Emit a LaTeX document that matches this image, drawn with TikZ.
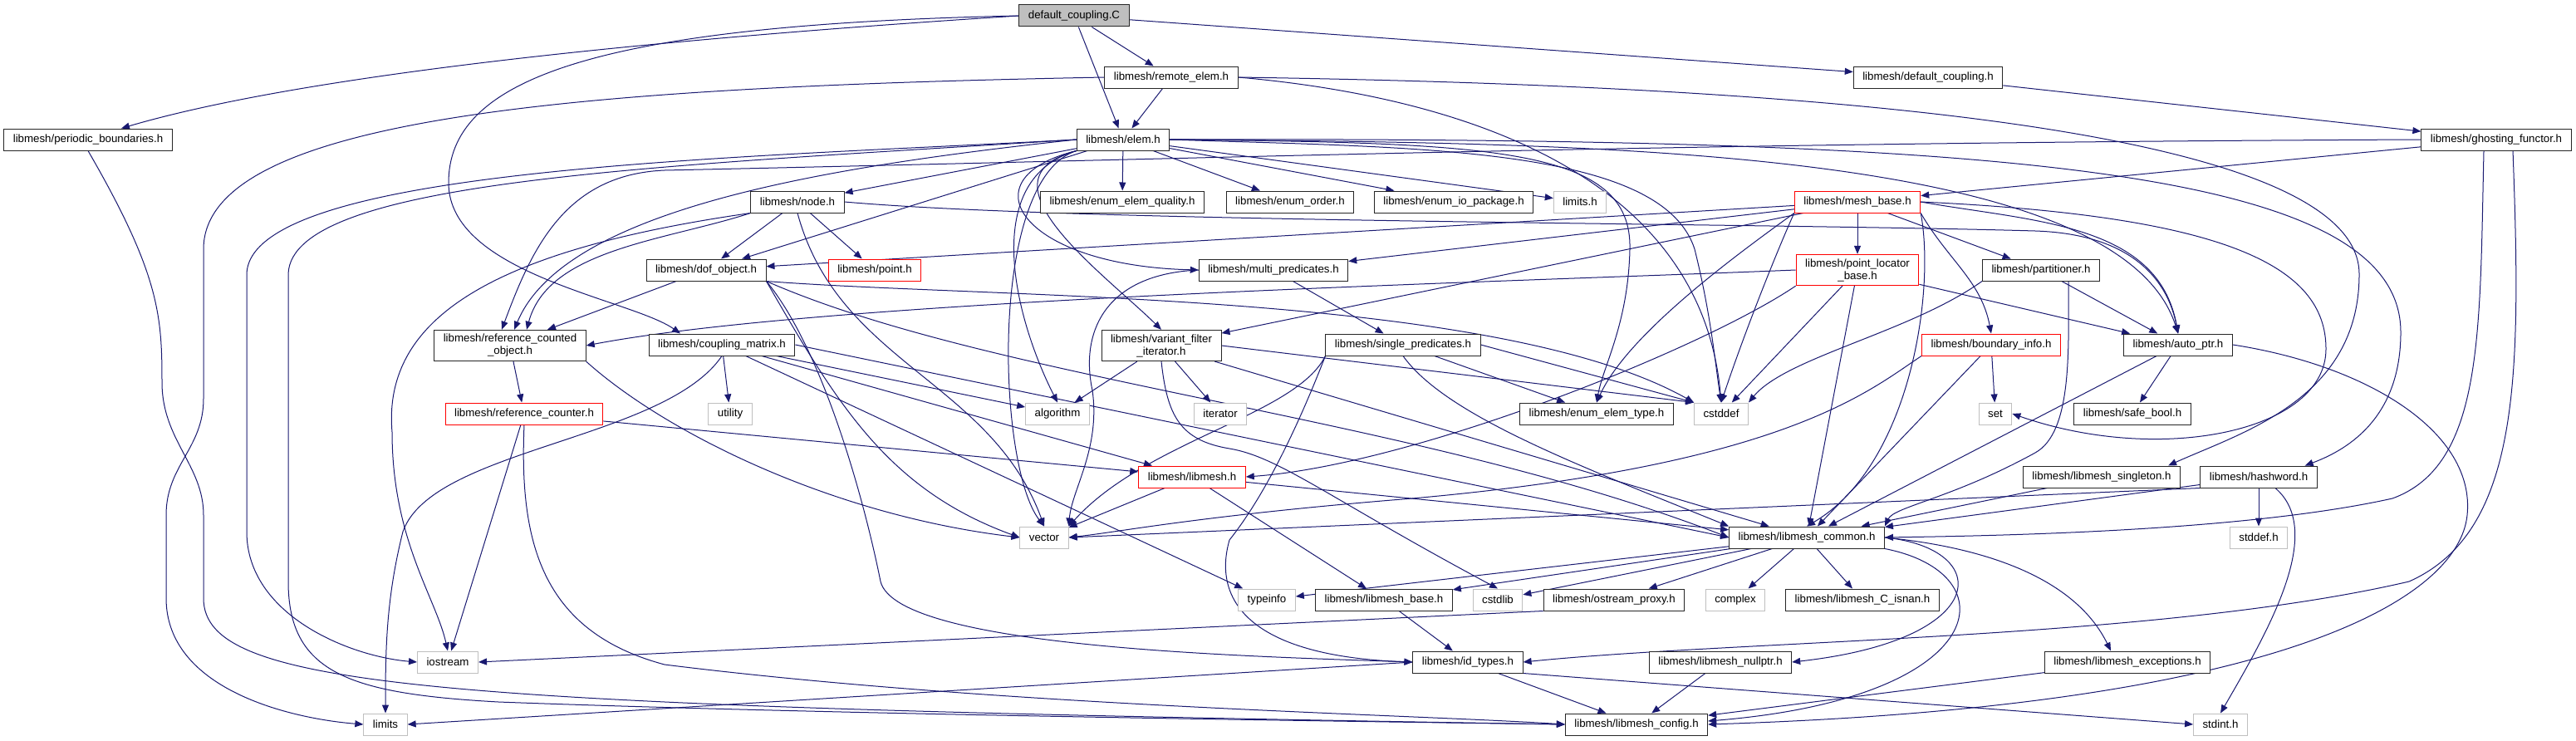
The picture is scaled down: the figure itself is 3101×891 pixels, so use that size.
\documentclass[tikz,border=0pt]{standalone}
\usepackage{fontspec}
\setmainfont{Liberation Sans}
\usepackage{xcolor}
\usepackage{tikz}
\usetikzlibrary{arrows.meta}
\definecolor{edgeblue}{HTML}{191970}
\definecolor{sysgray}{HTML}{BFBFBF}
\definecolor{cutred}{HTML}{FF0000}
\pgfdeclarelayer{edges}
\pgfsetlayers{edges,main}

\begin{document}
\begin{tikzpicture}[
  x=1pt,y=1pt,
  box/.style={draw=black!85,line width=1pt,fill=white,align=center,minimum height=26pt,inner xsep=11pt,inner ysep=5pt,font=\fontsize{13.3}{15}\selectfont},
  sysbox/.style={box,draw=sysgray},
  cutbox/.style={box,draw=cutred},
  rootbox/.style={box,fill=sysgray},
  line/.style={-{Triangle[length=10pt,width=8pt]},line width=1pt,draw=edgeblue}
]
\useasboundingbox (0,0) rectangle (3101,-891);
\node[rootbox] (dc) at (1293,-19) {default\_coupling.C};
\node[box] (remote) at (1410,-93) {libmesh/remote\_elem.h};
\node[box] (defcouph) at (2321,-93) {libmesh/default\_coupling.h};
\node[box] (periodic) at (106,-168) {libmesh/periodic\_boundaries.h};
\node[box] (elem) at (1352,-168) {libmesh/elem.h};
\node[box] (ghosting) at (3005,-168) {libmesh/ghosting\_functor.h};
\node[box] (nodeh) at (960,-243) {libmesh/node.h};
\node[box] (enumquality) at (1351,-243) {libmesh/enum\_elem\_quality.h};
\node[box] (enumorder) at (1553,-243) {libmesh/enum\_order.h};
\node[box] (enumio) at (1750,-243) {libmesh/enum\_io\_package.h};
\node[sysbox] (limitsh) at (1902,-243) {limits.h};
\node[cutbox] (meshbase) at (2236,-243) {libmesh/mesh\_base.h};
\node[box] (dofobject) at (850,-325) {libmesh/dof\_object.h};
\node[cutbox] (point) at (1053,-325) {libmesh/point.h};
\node[box] (multipred) at (1533,-325) {libmesh/multi\_predicates.h};
\node[cutbox] (pointlocator) at (2236,-325) {libmesh/point\_locator\\\_base.h};
\node[box] (partitioner) at (2457,-325) {libmesh/partitioner.h};
\node[box] (refcountedobj) at (614,-416) {libmesh/reference\_counted\\\_object.h};
\node[box] (couplingmatrix) at (869,-415) {libmesh/coupling\_matrix.h};
\node[box] (variantfilter) at (1398,-416) {libmesh/variant\_filter\\\_iterator.h};
\node[box] (singlepred) at (1689,-415) {libmesh/single\_predicates.h};
\node[cutbox] (boundaryinfo) at (2397,-415) {libmesh/boundary\_info.h};
\node[box] (autoptr) at (2622,-415) {libmesh/auto\_ptr.h};
\node[cutbox] (refcounter) at (631,-498) {libmesh/reference\_counter.h};
\node[sysbox] (utility) at (879,-498) {utility};
\node[sysbox] (algorithm) at (1273,-498) {algorithm};
\node[sysbox] (iterator) at (1469,-498) {iterator};
\node[box] (enumelemtype) at (1922,-498) {libmesh/enum\_elem\_type.h};
\node[sysbox] (cstddef) at (2072,-498) {cstddef};
\node[sysbox] (set) at (2402,-498) {set};
\node[box] (safebool) at (2567,-498) {libmesh/safe\_bool.h};
\node[cutbox] (libmeshh) at (1435,-574) {libmesh/libmesh.h};
\node[box] (singleton) at (2530,-574) {libmesh/libmesh\_singleton.h};
\node[box] (hashword) at (2719,-574) {libmesh/hashword.h};
\node[sysbox] (vector) at (1257,-647) {vector};
\node[box] (common) at (2175,-647) {libmesh/libmesh\_common.h};
\node[sysbox] (stddef) at (2719,-647) {stddef.h};
\node[sysbox] (typeinfo) at (1525,-722) {typeinfo};
\node[box] (libmeshbase) at (1666,-722) {libmesh/libmesh\_base.h};
\node[sysbox] (cstdlib) at (1803,-722) {cstdlib};
\node[box] (ostream) at (1943,-722) {libmesh/ostream\_proxy.h};
\node[sysbox] (complex) at (2089,-722) {complex};
\node[box] (cisnan) at (2242,-722) {libmesh/libmesh\_C\_isnan.h};
\node[sysbox] (iostream) at (539,-797) {iostream};
\node[box] (idtypes) at (1767,-797) {libmesh/id\_types.h};
\node[box] (nullptr) at (2071,-797) {libmesh/libmesh\_nullptr.h};
\node[box] (exceptions) at (2561,-797) {libmesh/libmesh\_exceptions.h};
\node[sysbox] (limits) at (464,-872) {limits};
\node[box] (config) at (1970,-872) {libmesh/libmesh\_config.h};
\node[sysbox] (stdint) at (2673,-872) {stdint.h};
\begin{pgfonlayer}{edges}
\draw[line] (dc.west) .. controls (900,-40) and (400,-80) .. ([xshift=40pt]periodic.north);
\draw[line] (dc) -- (remote);
\draw[line] (dc) -- (elem);
\draw[line] (dc) -- (defcouph);
\draw[line] (dc.west) .. controls (700,-30) and (540,-100) .. (540,-220) .. controls (540,-330) and (760,-360) .. ([xshift=-50pt]couplingmatrix.north);
\draw[line] (remote) -- (elem);
\draw[line] (remote.west) .. controls (700,-105) and (245,-140) .. (245,-300) -- (245,-480) .. controls (245,-540) and (200,-560) .. (200,-620) -- (200,-720) .. controls (200,-830) and (350,-865) .. (limits.west);
\draw[line] (remote.east) .. controls (1764,-117) and (2048,-212) .. (cstddef.north);
\draw[line] (remote.east) .. controls (2300,-105) and (2840,-170) .. (2840,-330) .. controls (2840,-480) and (2700,-520) .. ([xshift=-15pt]singleton.north east);
\draw[line] (periodic.south) .. controls (192,-330) and (195,-380) .. (195,-460) .. controls (195,-530) and (245,-560) .. (245,-620) -- (245,-720) .. controls (245,-830) and (520,-850) .. (config.west);
\draw[line] (defcouph) -- (ghosting);
\draw[line] (ghosting) -- (meshbase);
\draw[line] (ghosting.west) .. controls (2000,-172) and (1500,-190) .. (800,-205) .. controls (680,-210) and (640,-300) .. ([xshift=-10pt]refcountedobj.north);
\draw[line] ([xshift=-15pt]ghosting.south) .. controls (2985,-400) and (2990,-560) .. (2880,-600) .. controls (2700,-640) and (2400,-645) .. (common.east);
\draw[line] ([xshift=20pt]ghosting.south) .. controls (3035,-450) and (3035,-640) .. (2900,-700) .. controls (2600,-770) and (2100,-770) .. (idtypes.east);
\draw[line] (elem) -- (nodeh);
\draw[line] (elem) -- (enumquality);
\draw[line] (elem) -- (enumorder);
\draw[line] (elem) -- (enumio);
\draw[line] (elem) -- (limitsh);
\draw[line] (elem) -- (dofobject);
\draw[line] (elem.west) .. controls (1000,-200) and (680,-250) .. ([xshift=5pt]refcountedobj.north);
\draw[line] (elem.south west) .. controls (1160,-215) and (1230,-320) .. (multipred.west);
\draw[line] (elem.south west) .. controls (1170,-215) and (1330,-330) .. (variantfilter.north);
\draw[line] (elem.south west) .. controls (1180,-215) and (1220,-380) .. (algorithm.north);
\draw[line] (elem.south west) .. controls (1190,-215) and (1200,-560) .. (vector.north);
\draw[line] (elem.west) .. controls (900,-190) and (300,-200) .. (297,-330) -- (297,-640) .. controls (297,-740) and (420,-790) .. (iostream.west);
\draw[line] (elem.west) .. controls (800,-200) and (350,-215) .. (347,-330) -- (347,-700) .. controls (347,-810) and (420,-835) .. (600,-845) .. controls (1000,-860) and (1600,-868) .. (config.west);
\draw[line] (elem.east) .. controls (1700,-178) and (2000,-175) .. (2040,-300) .. controls (2060,-380) and (2065,-440) .. (cstddef.north);
\draw[line] (elem.east) .. controls (1800,-172) and (1965,-178) .. (1962,-300) .. controls (1960,-390) and (1930,-440) .. (enumelemtype.north);
\draw[line] (elem.east) .. controls (1900,-172) and (2550,-175) .. (autoptr.north);
\draw[line] (elem.east) .. controls (2400,-165) and (2890,-200) .. (2890,-400) .. controls (2890,-500) and (2830,-540) .. ([xshift=-15pt]hashword.north east);
\draw[line] (nodeh) -- (point);
\draw[line] (nodeh) -- (dofobject);
\draw[line] (nodeh.south west) .. controls (800,-290) and (660,-300) .. ([xshift=20pt]refcountedobj.north);
\draw[line] (nodeh.south) .. controls (1009,-438) and (1193,-458) .. (vector.north);
\draw[line] (nodeh.south west) .. controls (600,-300) and (460,-380) .. (472,-520) .. controls (472,-650) and (525,-720) .. (iostream.north);
\draw[line] (nodeh.east) .. controls (1300,-268) and (2100,-268) .. (2450,-278) .. controls (2570,-282) and (2610,-340) .. (autoptr.north);
\draw[line] (meshbase) -- (dofobject);
\draw[line] (meshbase) -- (multipred);
\draw[line] (meshbase) -- (pointlocator);
\draw[line] (meshbase) -- (partitioner);
\draw[line] (meshbase.south east) .. controls (2345,-313) and (2385,-338) .. (boundaryinfo.north);
\draw[line] (meshbase.east) .. controls (2447,-267) and (2598,-268) .. (autoptr.north);
\draw[line] (meshbase) -- (variantfilter);
\draw[line] (meshbase.south west) .. controls (2140,-300) and (2100,-400) .. (cstddef.north);
\draw[line] (meshbase.south west) .. controls (2100,-300) and (1960,-400) .. (enumelemtype.north);
\draw[line] (meshbase.east) .. controls (2680,-260) and (2800,-320) .. (2800,-420) .. controls (2800,-520) and (2600,-560) .. (set.east);
\draw[line] (meshbase.south east) .. controls (2330,-350) and (2300,-560) .. (common.north);
\draw[line] (dofobject) -- ([xshift=45pt]refcountedobj.north);
\draw[line] (dofobject.south east) .. controls (1007,-485) and (1068,-589) .. (vector.west);
\draw[line] (dofobject.south east) .. controls (990,-420) and (1040,-600) .. (1060,-700) .. controls (1080,-780) and (1500,-790) .. (idtypes.west);
\draw[line] (dofobject.south east) .. controls (1200,-360) and (1800,-350) .. (cstddef.north west);
\draw[line] (dofobject.south east) .. controls (1200,-460) and (1700,-500) .. (common.west);
\draw[line] (couplingmatrix) -- (utility);
\draw[line] (couplingmatrix) -- (algorithm);
\draw[line] (couplingmatrix.south) .. controls (800,-530) and (520,-540) .. (485,-640) .. controls (465,-720) and (464,-780) .. (limits.north);
\draw[line] (couplingmatrix) -- (typeinfo);
\draw[line] (couplingmatrix) -- (libmeshh);
\draw[line] (couplingmatrix.east) -- (common.west);
\draw[line] (refcountedobj) -- (refcounter);
\draw[line] (refcountedobj.south east) .. controls (800,-520) and (1000,-620) .. (vector.west);
\draw[line] (refcounter) -- (libmeshh);
\draw[line] (refcounter) -- (iostream);
\draw[line] (refcounter.south) .. controls (625,-650) and (650,-760) .. (800,-800) .. controls (1200,-850) and (1700,-860) .. (config.west);
\draw[line] (variantfilter) -- (algorithm);
\draw[line] (variantfilter) -- (iterator);
\draw[line] (variantfilter.south) .. controls (1405,-500) and (1420,-530) .. (1480,-540) .. controls (1540,-550) and (1600,-600) .. (cstdlib.north);
\draw[line] (variantfilter) -- (common);
\draw[line] (variantfilter.east) -- (cstddef.north west);
\draw[line] (multipred) -- (singlepred);
\draw[line] (multipred.west) .. controls (1330,-330) and (1300,-400) .. (1315,-470) .. controls (1325,-540) and (1290,-590) .. (vector.north east);
\draw[line] (singlepred) -- (enumelemtype);
\draw[line] (singlepred.east) -- (cstddef.north west);
\draw[line] (singlepred.south west) .. controls (1560,-500) and (1380,-530) .. (vector.north east);
\draw[line] (singlepred.south) .. controls (1740,-500) and (1900,-560) .. (common.north west);
\draw[line] (singlepred.south west) .. controls (1560,-520) and (1520,-600) .. (1480,-650) .. controls (1460,-720) and (1500,-790) .. (idtypes.west);
\draw[line] (pointlocator.west) .. controls (1800,-340) and (1000,-360) .. (refcountedobj.east);
\draw[line] (pointlocator) -- (cstddef);
\draw[line] (pointlocator) -- (autoptr);
\draw[line] (pointlocator) -- (common);
\draw[line] (pointlocator.south west) .. controls (2050,-420) and (1700,-560) .. (libmeshh.east);
\draw[line] (partitioner) -- (autoptr);
\draw[line] (partitioner.south west) .. controls (2300,-400) and (2150,-430) .. (cstddef.north east);
\draw[line] ([xshift=33pt]partitioner.south) .. controls (2490,-420) and (2495,-520) .. (2450,-545) .. controls (2350,-600) and (2280,-610) .. (common.north east);
\draw[line] (boundaryinfo) -- (set);
\draw[line] (boundaryinfo.south west) .. controls (2250,-470) and (2150,-560) .. (1700,-600) .. controls (1450,-620) and (1350,-640) .. (vector.east);
\draw[line] (boundaryinfo) -- (common);
\draw[line] (autoptr) -- (safebool);
\draw[line] (autoptr) -- (common);
\draw[line] (autoptr.east) .. controls (2850,-440) and (2980,-520) .. (2970,-620) .. controls (2960,-720) and (2750,-850) .. (config.east);
\draw[line] (libmeshh) -- (vector);
\draw[line] (libmeshh) -- (common);
\draw[line] (libmeshh) -- (libmeshbase);
\draw[line] (singleton) -- (common);
\draw[line] (hashword.south west) -- (vector.east);
\draw[line] (hashword) -- (common);
\draw[line] (hashword) -- (stddef);
\draw[line] ([xshift=20pt]hashword.south) .. controls (2800,-640) and (2730,-760) .. (stdint.north);
\draw[line] (common) -- (typeinfo);
\draw[line] (common) -- (libmeshbase);
\draw[line] (common) -- (cstdlib);
\draw[line] (common) -- (ostream);
\draw[line] (common) -- (complex);
\draw[line] (common) -- (cisnan);
\draw[line] (common.east) .. controls (2400,-660) and (2400,-770) .. (nullptr.east);
\draw[line] (common.east) .. controls (2400,-660) and (2500,-700) .. ([xshift=-20pt]exceptions.north);
\draw[line] (common.south east) .. controls (2420,-690) and (2400,-840) .. ([yshift=4pt]config.east);
\draw[line] (libmeshbase) -- (idtypes);
\draw[line] (ostream.south west) -- (iostream.east);
\draw[line] (idtypes.west) -- (limits.east);
\draw[line] (idtypes) -- (config);
\draw[line] (idtypes.south east) -- (stdint.west);
\draw[line] (nullptr) -- (config);
\draw[line] (exceptions) -- (config);
\end{pgfonlayer}
\end{tikzpicture}
\end{document}
